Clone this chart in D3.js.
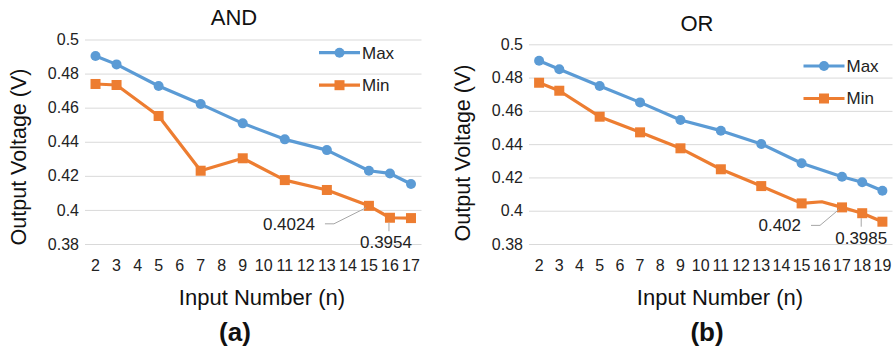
<!DOCTYPE html>
<html>
<head>
<meta charset="utf-8">
<script src="https://cdn.jsdelivr.net/npm/d3@7"></script>
<style>
  body { margin: 0; background: #fff; }
  svg { display: block; font-family: "Liberation Sans", Arial, sans-serif; }
</style>
</head>
<body>
<svg id="chart" width="894" height="353"></svg>
<script>
// AND gate
const andMaxN = [2, 3, 5, 7, 9, 11, 13, 15, 16, 17];
const andMax = [0.4903, 0.4854, 0.4727, 0.4621, 0.4508, 0.4414, 0.4351, 0.4230, 0.4214, 0.4152];
const andMinN = [2, 3, 5, 7, 9, 11, 13, 15, 16, 17];
const andMin = [0.4739, 0.4733, 0.4551, 0.4230, 0.4303, 0.4175, 0.4117, 0.4024, 0.3954, 0.3952];

// OR gate
const orMaxN = [2, 3, 5, 7, 9, 11, 13, 15, 17, 18, 19];
const orMax = [0.4901, 0.4850, 0.4749, 0.4651, 0.4545, 0.4481, 0.4401, 0.4285, 0.4204, 0.4171, 0.4120];
const orMinN = [2, 3, 5, 7, 9, 11, 13, 15, 16, 17, 18, 19];
const orMin = [0.4769, 0.4721, 0.4565, 0.4471, 0.4375, 0.4249, 0.4148, 0.4044, 0.4054, 0.4020, 0.3985, 0.3934];
const orMinNoMarker = [16];

const yTicks = [0.38, 0.40, 0.42, 0.44, 0.46, 0.48, 0.50];
const seriesNames = ['Max', 'Min'];

const BLUE = '#5b9bd5', ORANGE = '#ed7d31';
const svg = d3.select('#chart');
const range = (a, b) => d3.range(a, b + 1).map(String);

function panel(o) {
  const g = svg.append('g');
  const x = d3.scaleBand().domain(o.cats).range([o.left, o.right]);
  const y = d3.scaleLinear().domain([0.38, 0.5]).range([244, o.top]);
  const cx = n => x(String(n)) + x.bandwidth() / 2;

  // grid + y labels
  g.selectAll('.grid').data(yTicks).join('line')
    .attr('x1', o.left).attr('x2', o.right)
    .attr('y1', d => y(d) + 0.5).attr('y2', d => y(d) + 0.5)
    .attr('stroke', '#d9d9d9').attr('stroke-width', 1);
  g.selectAll('.yl').data(yTicks).join('text')
    .attr('x', o.left - 6).attr('y', d => y(d)).attr('dy', '0.35em')
    .attr('text-anchor', 'end').attr('font-size', 16).attr('fill', '#222')
    .text(d => String(+d.toFixed(2)));

  // x labels
  g.selectAll('.xl').data(o.cats).join('text')
    .attr('x', d => cx(d)).attr('y', 265.5).attr('dy', '0.35em')
    .attr('text-anchor', 'middle').attr('font-size', 16).attr('fill', '#222')
    .text(d => d);

  const line = d3.line().x(d => cx(d[0])).y(d => y(d[1]));
  const maxPts = d3.zip(o.maxN, o.max);
  const minPts = d3.zip(o.minN, o.min);

  g.append('path').datum(maxPts).attr('d', line)
    .attr('fill', 'none').attr('stroke', BLUE).attr('stroke-width', 3.2).attr('stroke-linejoin', 'round');
  g.selectAll('.mc').data(maxPts).join('circle')
    .attr('cx', d => cx(d[0])).attr('cy', d => y(d[1])).attr('r', 5).attr('fill', BLUE);

  g.append('path').datum(minPts).attr('d', line)
    .attr('fill', 'none').attr('stroke', ORANGE).attr('stroke-width', 3.2).attr('stroke-linejoin', 'round');
  g.selectAll('.ms').data(minPts.filter(d => !(o.noMarker || []).includes(d[0]))).join('rect')
    .attr('x', d => cx(d[0]) - 5).attr('y', d => y(d[1]) - 5)
    .attr('width', 10).attr('height', 10).attr('fill', ORANGE);

  // data labels
  o.labels.forEach(l => {
    const i = o.minN.indexOf(l.n);
    const px = cx(l.n), py = y(o.min[i]);
    const t = o.min[i].toFixed(l.digits);
    const tx = px + l.dx, ty = py + l.dy;
    if (l.type === 'left') {
      g.append('text').attr('x', tx).attr('y', ty).attr('dy', '0.35em')
        .attr('text-anchor', 'end').attr('font-size', 17).attr('fill', '#222').text(t);
      g.append('polyline')
        .attr('points', [[tx + 10, ty], [tx + 19, ty], [px - 3, py + 2]].join(' '))
        .attr('fill', 'none').attr('stroke', '#a6a6a6').attr('stroke-width', 1);
    } else {
      g.append('text').attr('x', tx).attr('y', ty).attr('dy', '0.35em')
        .attr('text-anchor', 'middle').attr('font-size', 17).attr('fill', '#222').text(t);
      g.append('line').attr('x1', px - 1).attr('x2', px - 1)
        .attr('y1', py + 5).attr('y2', ty - 11)
        .attr('stroke', '#a6a6a6').attr('stroke-width', 1);
    }
  });

  // legend
  const leg = g.selectAll('.leg').data(seriesNames).join('g')
    .attr('transform', (d, i) => `translate(${o.legX},${o.legY + i * 32.5})`);
  leg.append('line').attr('x1', 0).attr('x2', 41)
    .attr('stroke', (d, i) => i ? ORANGE : BLUE).attr('stroke-width', 3.2);
  leg.filter((d, i) => i === 0).append('circle').attr('cx', 20.5).attr('r', 5).attr('fill', BLUE);
  leg.filter((d, i) => i === 1).append('rect').attr('x', 15.5).attr('y', -5)
    .attr('width', 10).attr('height', 10).attr('fill', ORANGE);
  leg.append('text').attr('x', 43).attr('dy', '0.35em').attr('font-size', 17).attr('fill', '#222').text(d => d);

  // titles
  g.append('text').attr('x', o.titleX).attr('y', o.titleY).attr('dy', '0.35em')
    .attr('text-anchor', 'middle').attr('font-size', 22).attr('fill', '#111').text(o.title);
  g.append('text').attr('x', o.xTitleX).attr('y', 297).attr('dy', '0.35em')
    .attr('text-anchor', 'middle').attr('font-size', 22).attr('fill', '#111').text('Input Number (n)');
  g.append('text').attr('transform', `translate(${o.yTitleX},${o.yTitleY}) rotate(-90)`)
    .attr('dy', '0.35em').attr('text-anchor', 'middle').attr('font-size', 21.5).attr('fill', '#111')
    .text('Output Voltage (V)');
  g.append('text').attr('x', o.subX).attr('y', 332).attr('dy', '0.35em')
    .attr('text-anchor', 'middle').attr('font-size', 26).attr('font-weight', 'bold').attr('fill', '#111')
    .text(o.sub);
}

panel({
  cats: range(2, 17), left: 85, right: 421.5, top: 39.5,
  maxN: andMaxN, max: andMax, minN: andMinN, min: andMin,
  labels: [{ n: 15, digits: 4, type: 'left', dx: -54, dy: 18 }, { n: 16, digits: 4, type: 'below', dx: -4, dy: 24.5 }],
  legX: 319, legY: 52.7,
  title: 'AND', titleX: 234, titleY: 17,
  xTitleX: 262, yTitleX: 18, yTitleY: 157, subX: 235, sub: '(a)'
});

panel({
  cats: range(2, 19), left: 529, right: 892.5, top: 44.3,
  maxN: orMaxN, max: orMax, minN: orMinN, min: orMin, noMarker: orMinNoMarker,
  labels: [{ n: 17, digits: 3, type: 'left', dx: -41, dy: 18 }, { n: 18, digits: 4, type: 'below', dx: -1, dy: 24.5 }],
  legX: 803.5, legY: 66,
  title: 'OR', titleX: 697, titleY: 23.5,
  xTitleX: 720, yTitleX: 462, yTitleY: 153, subX: 707, sub: '(b)'
});
</script>
</body>
</html>
